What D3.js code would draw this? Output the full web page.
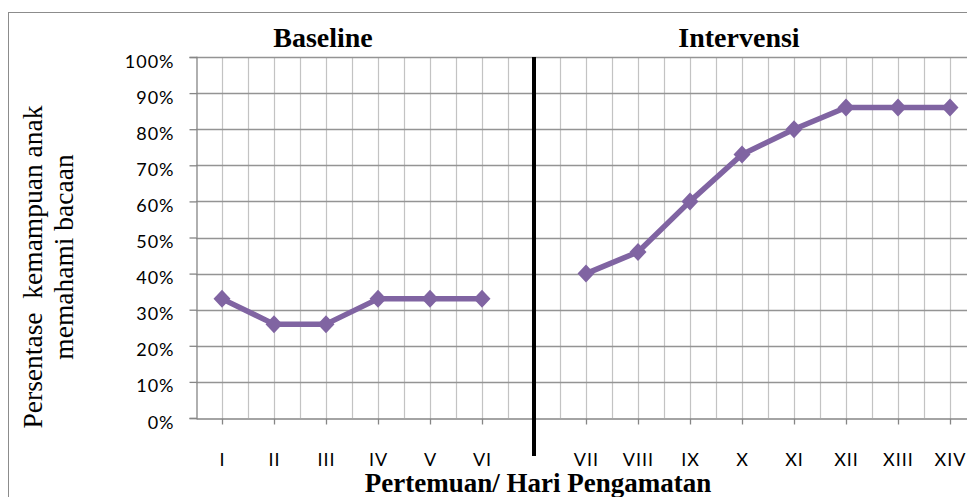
<!DOCTYPE html>
<html>
<head>
<meta charset="utf-8">
<script src="https://cdn.jsdelivr.net/npm/d3@7"></script>
<style>
  html, body { margin: 0; padding: 0; background: #fff; }
  svg { display: block; }
  .tick-lbl { font-family: Lato, "Open Sans", sans-serif; font-size: 18px; letter-spacing: 1px; fill: #000; }
  .serif { font-family: "Liberation Serif", "Times New Roman", serif; fill: #000; }
</style>
</head>
<body>
<svg id="chart" width="967" height="497"></svg>
<script>
// ---- data ----
const categories = ["I","II","III","IV","V","VI","","VII","VIII","IX","X","XI","XII","XIII","XIV"];
const baselineCats = ["I","II","III","IV","V","VI"];
const baselineValues = [33, 26, 26, 33, 33, 33];
const intervensiCats = ["VII","VIII","IX","X","XI","XII","XIII","XIV"];
const intervensiValues = [40, 46, 60, 73, 80, 86, 86, 86];
const yTicks = [0,10,20,30,40,50,60,70,80,90,100];
const phaseLabels = ["Baseline", "Intervensi"];
const yTitle = ["Persentase  kemampuan anak", "memahami bacaan"];
const xTitle = "Pertemuan/ Hari Pengamatan";

// ---- layout ----
const plot = { left: 196, right: 976, top: 57, bottom: 418 };
const svg = d3.select("#chart");

const x = d3.scalePoint()
  .domain(d3.range(categories.length))
  .range([plot.left, plot.right])
  .padding(0.5);
const step = x.step();
const xc = c => x(categories.indexOf(c));
const y = d3.scaleLinear().domain([0, 100]).range([plot.bottom, plot.top]);

// outer frame
svg.append("rect")
  .attr("x", 8.5).attr("y", 12.5)
  .attr("width", 1000).attr("height", 1000)
  .attr("fill", "none").attr("stroke", "#8c8c8c").attr("stroke-width", 1);

// vertical gridlines every half category
const vLines = [];
categories.forEach((c, i) => { vLines.push(x(i) - step / 2); vLines.push(x(i)); });
vLines.push(plot.right);
svg.append("g").selectAll("line").data(vLines.slice(1)).join("line")
  .attr("x1", d => Math.round(d) + 0.5).attr("x2", d => Math.round(d) + 0.5)
  .attr("y1", plot.top).attr("y2", plot.bottom)
  .attr("stroke", "#c3c3c3").attr("stroke-width", 1.2);

// horizontal gridlines
svg.append("g").selectAll("line").data(yTicks.slice(1)).join("line")
  .attr("x1", plot.left).attr("x2", plot.right)
  .attr("y1", d => Math.round(y(d)) + 0.5).attr("y2", d => Math.round(y(d)) + 0.5)
  .attr("stroke", "#949494").attr("stroke-width", 1.3);

// y axis
const yAxis = d3.axisLeft(y).tickValues(yTicks).tickSize(7).tickFormat(d => d + "%");
const gy = svg.append("g").attr("transform", `translate(${plot.left + 0.5},0)`).call(yAxis);
gy.select(".domain").attr("stroke", "#868686").attr("stroke-width", 1.3);
gy.selectAll(".tick line").attr("stroke", "#868686").attr("stroke-width", 1.3);
gy.selectAll(".tick text").attr("class", "tick-lbl")
  .attr("x", -22).attr("dy", "0").attr("y", 10).attr("text-anchor", "end");

// x axis
const xAxis = d3.axisBottom(x).tickSize(6).tickSizeOuter(0).tickFormat(i => categories[i]);
const gx = svg.append("g").attr("transform", `translate(0,${Math.round(plot.bottom) + 0.5})`).call(xAxis);
gx.select(".domain").attr("stroke", "#868686").attr("stroke-width", 1.3);
gx.selectAll(".tick line").attr("stroke", "#868686").attr("stroke-width", 1.3);
gx.selectAll(".tick text").attr("class", "tick-lbl")
  .attr("y", 47).attr("dy", "0").attr("text-anchor", "middle");

// phase divider
const gapX = x(categories.indexOf(""));
svg.append("line")
  .attr("x1", gapX).attr("x2", gapX)
  .attr("y1", plot.top).attr("y2", 456)
  .attr("stroke", "#000").attr("stroke-width", 4);

// phase labels
svg.append("text").attr("class", "serif")
  .attr("x", xc("III") - 3).attr("y", 47).attr("text-anchor", "middle")
  .attr("font-size", 28).attr("font-weight", "bold").text(phaseLabels[0]);
svg.append("text").attr("class", "serif")
  .attr("x", xc("X") - 3).attr("y", 47).attr("text-anchor", "middle")
  .attr("font-size", 28).attr("font-weight", "bold").text(phaseLabels[1]);

// series
const color = "#8064A2";
const line = d3.line().x(d => xc(d.c)).y(d => y(d.v));
const diamond = "M0,-9L8.5,0L0,9L-8.5,0Z";
[[baselineCats, baselineValues], [intervensiCats, intervensiValues]].forEach(([cats, vals]) => {
  const pts = cats.map((c, i) => ({ c, v: vals[i] }));
  svg.append("path").datum(pts)
    .attr("d", line).attr("fill", "none")
    .attr("stroke", color).attr("stroke-width", 5.5).attr("stroke-linejoin", "round");
  svg.append("g").selectAll("path").data(pts).join("path")
    .attr("d", diamond)
    .attr("transform", d => `translate(${xc(d.c)},${y(d.v)})`)
    .attr("fill", color);
});

// y title
svg.append("text").attr("class", "serif")
  .attr("transform", "translate(42,267) rotate(-90)")
  .attr("text-anchor", "middle").attr("font-size", 27.5)
  .style("white-space", "pre").text(yTitle[0]);
svg.append("text").attr("class", "serif")
  .attr("transform", "translate(73,257) rotate(-90)")
  .attr("text-anchor", "middle").attr("font-size", 27.5)
  .text(yTitle[1]);

// x title
svg.append("text").attr("class", "serif")
  .attr("x", 538).attr("y", 492).attr("text-anchor", "middle")
  .attr("font-size", 27).attr("font-weight", "bold").text(xTitle);
</script>
</body>
</html>
